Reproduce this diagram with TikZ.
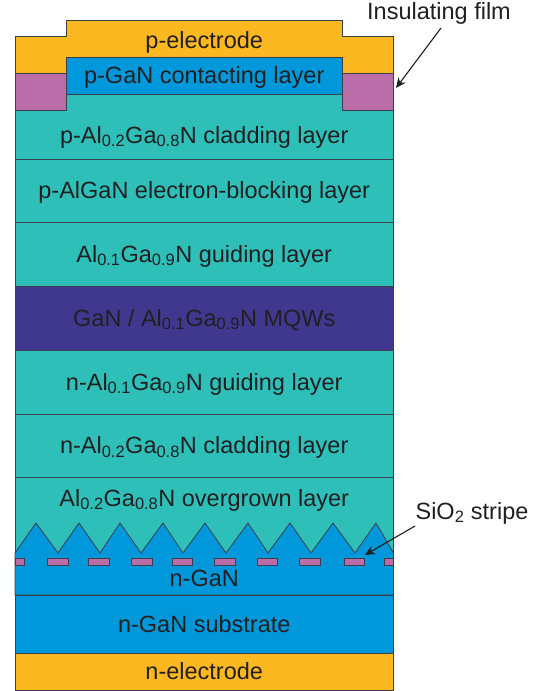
\documentclass[tikz,border=0pt]{standalone}
\usepackage{fontspec}
\setmainfont{Liberation Sans}
\usetikzlibrary{positioning, arrows.meta}

\definecolor{edgegray}{HTML}{3C3F4A}
\definecolor{inkgray}{HTML}{231F20}
\definecolor{goldlayer}{HTML}{FBB821}
\definecolor{bluelayer}{HTML}{0098DA}
\definecolor{teallayer}{HTML}{2EBFB9}
\definecolor{mqwlayer}{HTML}{40378F}
\definecolor{pinklayer}{HTML}{BB6DA9}

\tikzset{
  layer/.style 2 args={draw=edgegray, fill=#1, line width=0.8pt, inner sep=0pt, outer sep=0pt,
    minimum width=378.5pt, minimum height=#2, text=inkgray, font=\fontsize{23.5}{26}\selectfont,
    text height=19pt, text depth=3pt},
  caption/.style={text=inkgray, inner sep=0pt, font=\fontsize{23.5}{26}\selectfont,
    text height=19pt, text depth=3pt},
  stripe/.style={draw=edgegray, fill=pinklayer, line width=0.8pt, inner sep=0pt, outer sep=0pt,
    minimum height=7pt, minimum width=#1},
  pointer/.style={-{Stealth[length=10pt, width=9pt, inset=3pt]}, draw=inkgray, line width=1.1pt}
}

\begin{document}
\begin{tikzpicture}[x=1pt, y=-1pt, node distance=0pt]

\useasboundingbox (0,0) rectangle (542,691);

\draw[edgegray, fill=goldlayer, line width=0.8pt] (15,73) -- (15,36) -- (66.5,36) -- (66.5,20) -- (342,20) -- (342,36)
  -- (393.5,36) -- (393.5,73) -- (342,73) -- (342,57) -- (66.5,57) -- (66.5,73) -- cycle;
\node[caption] (pelectrode) at (204.25,40) {p-electrode};

\node[layer={teallayer}{65pt}] (pclad) at (204.25,126.5) {};
\node[caption] (pcladtext) at (204.25,135) {p-Al\textsubscript{0.2}Ga\textsubscript{0.8}N cladding layer};
\node[layer={teallayer}{63pt}, below=of pclad] (block) {p-AlGaN electron-blocking layer};
\node[layer={teallayer}{64pt}, below=of block] (pguide) {Al\textsubscript{0.1}Ga\textsubscript{0.9}N guiding layer};
\node[layer={mqwlayer}{64pt}, below=of pguide] (mqw) {GaN / Al\textsubscript{0.1}Ga\textsubscript{0.9}N MQWs};
\node[layer={teallayer}{64pt}, below=of mqw] (nguide) {n-Al\textsubscript{0.1}Ga\textsubscript{0.9}N guiding layer};
\node[layer={teallayer}{63pt}, below=of nguide] (nclad) {n-Al\textsubscript{0.2}Ga\textsubscript{0.8}N cladding layer};
\node[layer={teallayer}{76pt}, below=of nclad] (over) {};
\node[caption] (overtext) at (204.25,498) {Al\textsubscript{0.2}Ga\textsubscript{0.8}N overgrown layer};

\node[layer={bluelayer}{37pt}, minimum width=275.5pt] (contact) at (204.25,75.5) {p-GaN contacting layer};
\node[layer={pinklayer}{37pt}, minimum width=51.5pt] (pinkl) at (40.75,91.5) {};
\node[layer={pinklayer}{37pt}, minimum width=51.5pt] (pinkr) at (367.75,91.5) {};

\draw[edgegray, fill=bluelayer, line width=0.8pt] (15,553) -- (36,523) -- (58,553) -- (79,523) -- (100,553) -- (120,523)
  -- (141,553) -- (163,523) -- (183,553) -- (205,523) -- (226,553) -- (248,523) -- (268,553) -- (290,523)
  -- (311,553) -- (333,523) -- (355,553) -- (376,523) -- (393.5,553) -- (393.5,595) -- (15,595) -- cycle;
\node[caption] (ngan) at (204.25,578) {n-GaN};

\node[layer={bluelayer}{58pt}] (substrate) at (204.25,624) {n-GaN substrate};
\node[layer={goldlayer}{37pt}, below=of substrate] (nelectrode) {n-electrode};

\foreach \c/\w [count=\i] in {19.5/9, 57.5/21, 98.5/21, 141.5/21, 182/20, 224.5/21, 267/20, 309.5/21, 354/20, 389/9.5}
  \node[stripe=\w pt] (stripe\i) at (\c,561.5) {};

\node[caption] (filmtext) at (439,11) {Insulating film};
\node[caption] (sio) at (472,511) {SiO\textsubscript{2} stripe};

\coordinate (filmtip) at (396,88);
\coordinate (stripetip) at (365,555);
\coordinate (filmstart) at (441,28);
\coordinate (siostart) at (415,526);

\draw[pointer] (filmstart) -- (filmtip);
\draw[pointer] (siostart) -- (stripetip);

\end{tikzpicture}
\end{document}
